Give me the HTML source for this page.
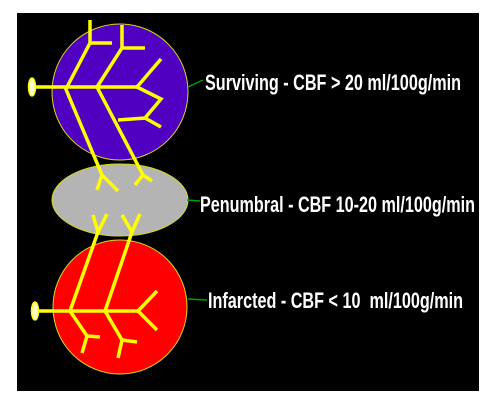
<!DOCTYPE html>
<html><head><meta charset="utf-8"><style>
html,body{margin:0;padding:0;background:#fff;width:504px;height:406px;overflow:hidden}
svg{display:block}
text{font-family:"Liberation Sans",sans-serif;font-weight:bold;fill:#fff;font-size:22px}
</style></head><body>
<svg width="504" height="406" viewBox="0 0 504 406">
<rect x="17" y="13" width="462" height="378" fill="#000"/>
<circle cx="120" cy="92" r="68" fill="#5000c0" stroke="#d8d820" stroke-width="1"/>
<ellipse cx="120" cy="200" rx="68" ry="36" fill="#b4b4b4" stroke="#d8d820" stroke-width="1"/>
<circle cx="120" cy="307" r="67" fill="#ff0000" stroke="#d8d820" stroke-width="1"/>
<g stroke="#ffff00" stroke-width="3.5" fill="none" stroke-linecap="butt" stroke-linejoin="miter">
<path d="M35 87 H137"/>
<path d="M67 87 L90 43 V20 M90 43 H112"/>
<path d="M65 87 L102 175 L97 190 M102 175 L118 191"/>
<path d="M97 87 L122 48 V25 M122 48 H145"/>
<path d="M97 87 L143 175 L135 185 M143 175 L152 181"/>
<path d="M137 87 L161 59 M137 87 L161 99 L145 118 L118 120 M145 118 L161 127"/>
</g>
<g stroke="#ffff00" stroke-width="3.5" fill="none">
<path d="M38 311 H138"/>
<path d="M70 311 L98 232 L93 215 M98 232 L107 214"/>
<path d="M105 311 L132 232 L122 215 M132 232 L140 214"/>
<path d="M70 311 L87 336 L100 337 M87 336 L82 353"/>
<path d="M105 311 L122 340 L137 342 M122 340 L118 358"/>
<path d="M138 311 L157 291 M138 311 L157 330"/>
</g>
<ellipse cx="32" cy="87" rx="3.5" ry="9" fill="#ffffcc" stroke="#ffff00" stroke-width="1.5"/>
<ellipse cx="35" cy="311" rx="3.5" ry="9" fill="#ffffcc" stroke="#ffff00" stroke-width="1.5"/>
<g stroke="#00a000" stroke-width="1.5">
<line x1="188" y1="87" x2="203" y2="80"/>
<line x1="187" y1="200" x2="200" y2="201"/>
<line x1="188" y1="299" x2="207" y2="300"/>
</g>
<text x="205" y="90" textLength="256" lengthAdjust="spacingAndGlyphs">Surviving - CBF &gt; 20 ml/100g/min</text>
<text x="200" y="212" textLength="275" lengthAdjust="spacingAndGlyphs">Penumbral - CBF 10-20 ml/100g/min</text>
<text x="208" y="308" textLength="255" lengthAdjust="spacingAndGlyphs" xml:space="preserve">Infarcted - CBF &lt; 10  ml/100g/min</text>
</svg>
</body></html>
